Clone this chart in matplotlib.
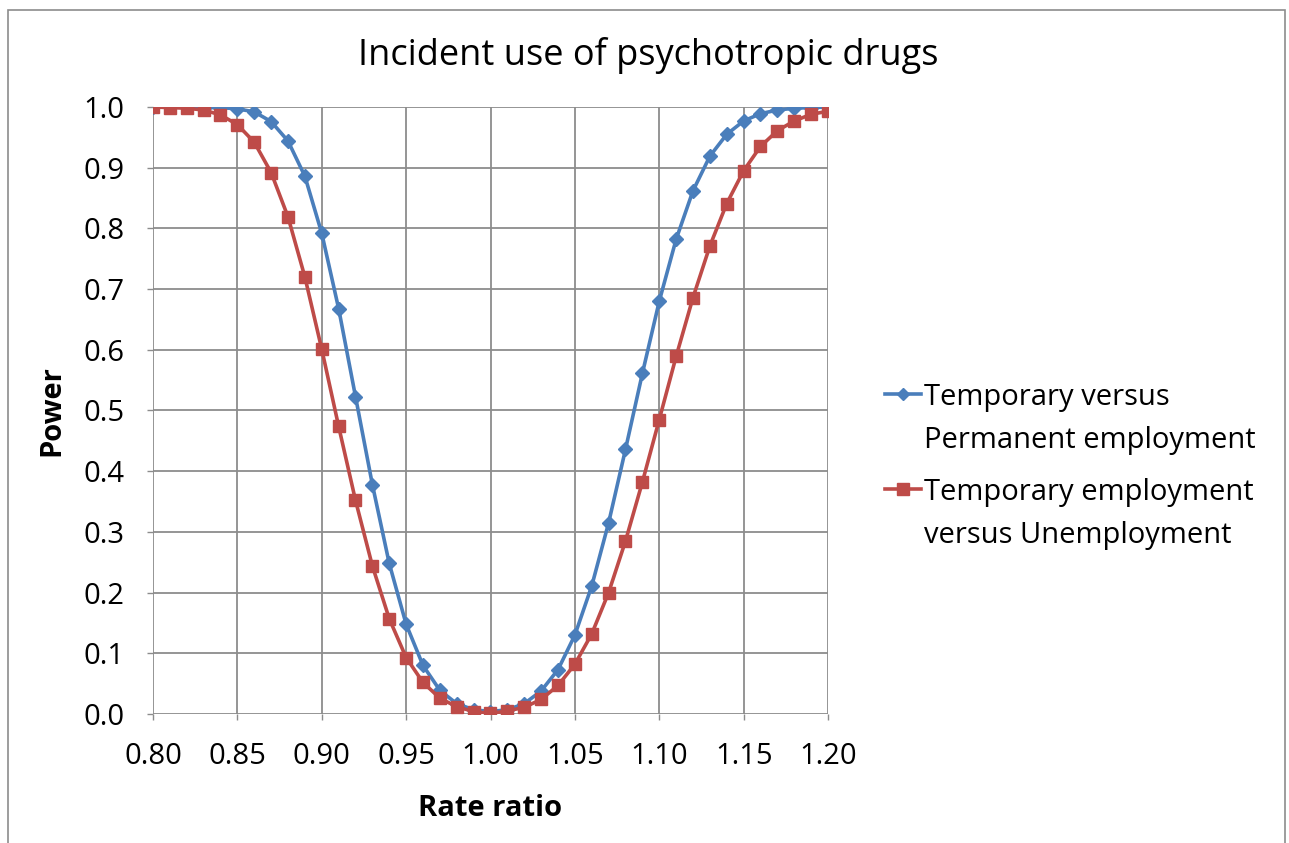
import matplotlib.pyplot as plt
import numpy as np
from matplotlib.lines import Line2D
from matplotlib.patches import Rectangle

plt.rcParams['font.family'] = ['Open Sans', 'DejaVu Sans']

rate_ratio = [round(0.80 + 0.01 * i, 2) for i in range(41)]

temp_vs_perm = [
    1.000, 1.000, 1.000, 0.999, 0.999, 0.997, 0.992, 0.976, 0.944, 0.886,
    0.792, 0.668, 0.523, 0.378, 0.248, 0.148, 0.080, 0.039, 0.017, 0.007,
    0.004, 0.007, 0.017, 0.038, 0.073, 0.130, 0.211, 0.315, 0.436, 0.561,
    0.680, 0.782, 0.862, 0.919, 0.955, 0.977, 0.989, 0.995, 0.998, 0.999,
    1.000,
]
temp_vs_unemp = [
    1.000, 0.999, 0.998, 0.995, 0.987, 0.971, 0.942, 0.892, 0.819, 0.720,
    0.601, 0.474, 0.352, 0.244, 0.157, 0.093, 0.052, 0.026, 0.012, 0.004,
    0.001, 0.005, 0.011, 0.024, 0.047, 0.082, 0.132, 0.200, 0.285, 0.382,
    0.485, 0.589, 0.686, 0.771, 0.841, 0.895, 0.935, 0.961, 0.977, 0.988,
    0.993,
]

series_lines = [['Temporary versus', 'Permanent employment'],
                ['Temporary employment', 'versus Unemployment']]

BLUE = '#4A7EBB'
RED = '#BE4B48'
GRID = '#8c8c8c'
W, H = 1289, 843

fig = plt.figure(figsize=(W / 100, H / 100), dpi=100)
ax = fig.add_axes([153 / W, 129 / H, 675 / W, 607 / H])

# outer chart border
fig.patches.append(Rectangle((8 / W, -0.02), 1277 / W, 1.02 - 10 / H,
                             transform=fig.transFigure, fill=False,
                             edgecolor=GRID, linewidth=1.2))

ax.plot(rate_ratio, temp_vs_perm, color=BLUE, linewidth=2.6,
        marker='D', markersize=7, zorder=3)
ax.plot(rate_ratio, temp_vs_unemp, color=RED, linewidth=2.6,
        marker='s', markersize=9.2, zorder=4)

xt = np.arange(0.80, 1.2001, 0.05)
yt = np.arange(0.0, 1.0001, 0.1)
ax.set_xlim(0.80, 1.20)
ax.set_ylim(0.0, 1.0)
ax.set_xticks(xt)
ax.set_xticklabels([f'{t:.2f}' for t in xt])
ax.set_yticks(yt)
ax.set_yticklabels([f'{t:.1f}' for t in yt])
ax.tick_params(length=4.5, width=1.0, color=GRID, labelsize=21)
ax.tick_params(axis='x', pad=16)
ax.tick_params(axis='y', pad=16)
for s in ax.spines.values():
    s.set_visible(False)
ax.grid(True, color=GRID, linewidth=1.3)
ax.set_axisbelow(True)

fig.text(648 / W, 1 - 65 / H, 'Incident use of psychotropic drugs',
         fontsize=26, ha='center', va='baseline')

ax.set_xlabel('Rate ratio', fontsize=21, fontweight='bold')
ax.xaxis.set_label_coords(0.5, (714 - 808) / 607)
ax.xaxis.label.set_verticalalignment('center')
ax.set_ylabel('Power', fontsize=21, fontweight='bold')
ax.yaxis.set_label_coords((52 - 153) / 675, 0.5)
ax.yaxis.label.set_verticalalignment('center')

# legend, drawn the way the spreadsheet lays it out
legend_rows = [(394, 405, 448, BLUE, 'D', 6.5), (489, 500, 543, RED, 's', 8.5)]
for (hy, b1, b2, col, mk, ms), lines in zip(legend_rows, series_lines):
    fig.add_artist(Line2D([885 / W, 921 / W], [1 - hy / H, 1 - hy / H],
                          transform=fig.transFigure, color=col, linewidth=2.6))
    fig.add_artist(Line2D([903 / W], [1 - hy / H], transform=fig.transFigure,
                          color=col, marker=mk, markersize=ms, linestyle='none'))
    fig.text(924 / W, 1 - b1 / H, lines[0], fontsize=21, va='baseline')
    fig.text(924 / W, 1 - b2 / H, lines[1], fontsize=21, va='baseline')

fig.savefig('out.png', dpi=100)
